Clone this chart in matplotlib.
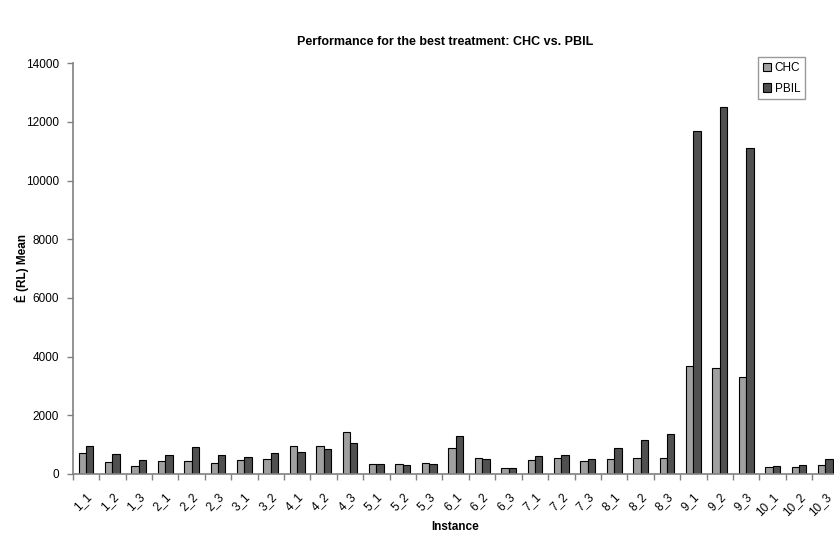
import matplotlib
matplotlib.use("Agg")
import matplotlib.pyplot as plt
import numpy as np
from matplotlib.ticker import FixedLocator

plt.rcParams['font.family'] = ['Liberation Sans', 'DejaVu Sans']

instances = ["1_1", "1_2", "1_3", "2_1", "2_2", "2_3", "3_1", "3_2",
             "4_1", "4_2", "4_3", "5_1", "5_2", "5_3", "6_1", "6_2", "6_3",
             "7_1", "7_2", "7_3", "8_1", "8_2", "8_3", "9_1", "9_2", "9_3",
             "10_1", "10_2", "10_3"]
chc = [705, 398, 261, 432, 432, 375, 466, 500,
       965, 965, 1442, 330, 330, 375, 875, 534, 193,
       466, 557, 432, 522, 545, 534, 3690, 3622, 3305,
       238, 238, 307]
pbil = [965, 681, 488, 636, 908, 636, 579, 705,
        750, 852, 1067, 330, 295, 330, 1295, 500, 193,
        613, 636, 522, 875, 1170, 1363, 11683, 12511, 11104,
        272, 307, 500]
series_names = ["CHC", "PBIL"]
yticks = [0, 2000, 4000, 6000, 8000, 10000, 12000, 14000]

W, H = 834, 538
fig = plt.figure(figsize=(W / 100, H / 100), dpi=100)
x0, x1 = 72.7, 838.7
ytop, ybot = 63.3, 474.0
ax = fig.add_axes([x0 / W, (H - ybot) / H, (x1 - x0) / W, (ybot - ytop) / H])

x = np.arange(len(instances))
bw = 0.28
ax.bar(x - bw / 2, chc, width=bw, color="#a0a0a0", edgecolor="black", linewidth=0.8, label=series_names[0])
ax.bar(x + bw / 2, pbil, width=bw, color="#505050", edgecolor="black", linewidth=0.8, label=series_names[1])

ax.set_xlim(-0.5, len(instances) - 0.5)
ax.set_ylim(0, 14000)
ax.set_yticks(yticks)
ax.set_yticklabels([str(v) for v in yticks], fontsize=8.5)

ax.set_xticks(x)
ax.set_xticklabels(instances, fontsize=8.5, rotation=45, ha="right", va="top", rotation_mode="anchor")
ax.xaxis.set_minor_locator(FixedLocator(np.arange(-0.5, len(instances), 1.0)))
ax.tick_params(axis="x", which="major", length=0, pad=12)
ax.tick_params(axis="x", which="minor", length=4, color="#808080", width=1)
ax.tick_params(axis="y", length=4, color="#808080", width=1, pad=6)

for s in ["top", "right"]:
    ax.spines[s].set_visible(False)
for s in ["left", "bottom"]:
    ax.spines[s].set_color("#808080")
    ax.spines[s].set_linewidth(1.2)

fig.text(445 / W, 1 - 42 / H, "Performance for the best treatment: CHC vs. PBIL",
         ha="center", va="center", fontsize=9, fontweight="bold")
fig.text(455 / W, 1 - 527 / H, "Instance", ha="center", va="center", fontsize=8.5, fontweight="bold")
fig.text(22 / W, 1 - 268 / H, "Ê (RL) Mean", ha="center", va="center", rotation=90,
         fontsize=8.5, fontweight="bold")

leg = ax.legend(loc="upper left", bbox_to_anchor=((758 - x0) / (x1 - x0), 1.015),
                fontsize=8.5, frameon=True, fancybox=False, handlelength=0.7, handleheight=0.7,
                handletextpad=0.3, borderpad=0.4, labelspacing=0.75, borderaxespad=0)
leg.get_frame().set_edgecolor("#808080")
leg.get_frame().set_linewidth(1)

fig.savefig("out.png", dpi=100, facecolor="white")
